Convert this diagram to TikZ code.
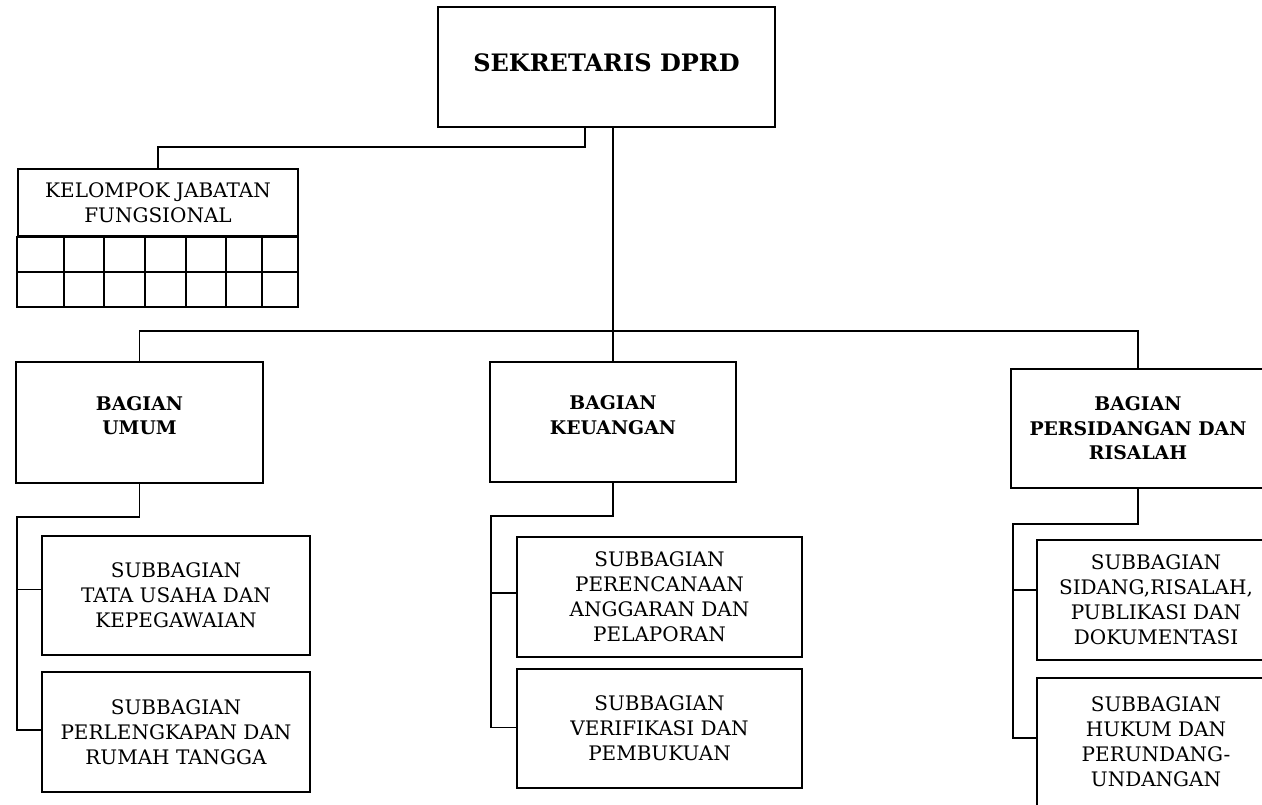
\documentclass[tikz,border=0pt]{standalone}
\usepackage{fontspec}
\setmainfont{DejaVu Serif}

\begin{document}
\begin{tikzpicture}[x=0.5pt,y=-0.5pt,line width=0.9pt,
    kotak/.style={draw,rectangle,inner sep=0pt,align=center,font=\fontsize{10}{12.5}\selectfont},
    bagian/.style={kotak,font=\fontsize{9.4}{12.2}\selectfont\bfseries}]
    \useasboundingbox (0,0) rectangle (1262,804);
    % kepala
    \node[kotak,minimum width=168.5pt,minimum height=60pt,text depth=4pt,
        font=\fontsize{12}{14}\selectfont\bfseries] (sek) at (606.5,67) {SEKRETARIS DPRD};
    % kelompok jabatan fungsional
    \node[kotak,minimum width=140pt,minimum height=33.5pt] (kjf) at (158,202.5) {KELOMPOK JABATAN\\FUNGSIONAL};
    \draw (kjf.south west) rectangle (298,307);
    \draw (18,272) -- (298,272);
    \foreach \x in {64,104,145,186,226,262}
        \draw (\x,236) -- (\x,307);
    % bagian
    \node[bagian,minimum width=123.5pt,minimum height=60.5pt,text depth=7pt] (umum) at (139.5,422.5) {BAGIAN\\UMUM};
    \node[bagian,minimum width=123pt,minimum height=60pt,text depth=7pt] (keu) at (613,422) {BAGIAN\\KEUANGAN};
    \node[bagian,minimum width=127pt,minimum height=59.5pt] (pers) at (1138,428.5) {BAGIAN\\PERSIDANGAN DAN\\RISALAH};
    % subbagian
    \node[kotak,minimum width=134pt,minimum height=59.5pt] (usub1) at (176,595.5) {SUBBAGIAN\\TATA USAHA DAN\\KEPEGAWAIAN};
    \node[kotak,minimum width=134pt,minimum height=60pt] (usub2) at (176,732) {SUBBAGIAN\\PERLENGKAPAN DAN\\RUMAH TANGGA};
    \node[kotak,minimum width=142.5pt,minimum height=60pt] (ksub1) at (659.5,597) {SUBBAGIAN\\PERENCANAAN\\ANGGARAN DAN\\PELAPORAN};
    \node[kotak,minimum width=142.5pt,minimum height=59.5pt] (ksub2) at (659.5,728.5) {SUBBAGIAN\\VERIFIKASI DAN\\PEMBUKUAN};
    \node[kotak,minimum width=119pt,minimum height=60pt] (psub1) at (1156,600) {SUBBAGIAN\\SIDANG,RISALAH,\\PUBLIKASI DAN\\DOKUMENTASI};
    \node[kotak,minimum width=119pt,minimum height=64pt] (psub2) at (1156,742) {SUBBAGIAN\\HUKUM DAN\\PERUNDANG-\\UNDANGAN};
    % garis
    \coordinate (bus) at (613,331);
    \coordinate (kjfturn) at (585,147);
    \draw (sek.south -| kjfturn) -- (kjfturn) -| (kjf.north);
    \draw (sek.south -| bus) -- (keu.north);
    \draw (umum.north) |- (bus) -| (pers.north);
    \coordinate (utrunk) at (17,517);
    \draw (umum.south) |- (utrunk) |- ([yshift=1pt]usub2.west);
    \draw (utrunk) |- ([yshift=3pt]usub1.west);
    \coordinate (ktrunk) at (491,516);
    \draw (keu.south) |- (ktrunk) |- ([yshift=0.5pt]ksub2.west);
    \draw (ktrunk) |- ([yshift=2pt]ksub1.west);
    \coordinate (ptrunk) at (1013,524);
    \draw (pers.south) |- (ptrunk) |- ([yshift=2pt]psub2.west);
    \draw (ptrunk) |- ([yshift=5pt]psub1.west);
\end{tikzpicture}
\end{document}
